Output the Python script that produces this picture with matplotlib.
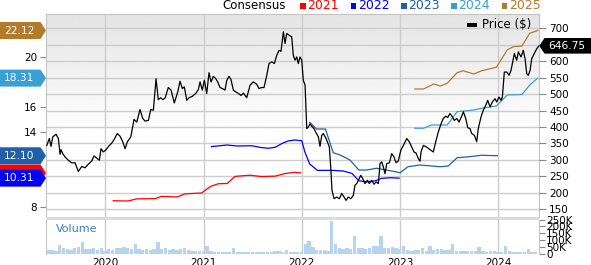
import numpy as np
import matplotlib
matplotlib.use("Agg")
import matplotlib.pyplot as plt
from matplotlib.patches import Polygon, Rectangle
from matplotlib.transforms import blended_transform_factory

# price, right axis ($), time in decimal years
price_t = [2019.404, 2019.430, 2019.447, 2019.465, 2019.498, 2019.522, 2019.539, 2019.549, 2019.566, 2019.590,
           2019.623, 2019.658, 2019.692, 2019.725, 2019.760, 2019.793, 2019.827, 2019.862, 2019.885, 2019.919,
           2019.939, 2019.956, 2019.980, 2020.007, 2020.041, 2020.065, 2020.089, 2020.122, 2020.150, 2020.177,
           2020.201, 2020.224, 2020.259, 2020.292, 2020.320, 2020.353, 2020.381, 2020.404, 2020.438, 2020.462,
           2020.489, 2020.516, 2020.539, 2020.564, 2020.584, 2020.608, 2020.641, 2020.669, 2020.702, 2020.737,
           2020.760, 2020.784, 2020.804, 2020.829, 2020.852, 2020.885, 2020.920, 2020.947, 2020.964, 2020.987,
           2021.008, 2021.032, 2021.055, 2021.076, 2021.099, 2021.124, 2021.144, 2021.167, 2021.191, 2021.218,
           2021.236, 2021.259, 2021.279, 2021.303, 2021.327, 2021.354, 2021.381, 2021.405, 2021.439, 2021.473,
           2021.506, 2021.541, 2021.564, 2021.592, 2021.615, 2021.643, 2021.666, 2021.694, 2021.720, 2021.745,
           2021.768, 2021.788, 2021.812, 2021.829, 2021.846, 2021.880, 2021.897, 2021.913, 2021.931, 2021.948,
           2021.964, 2021.982, 2021.999, 2022.015, 2022.033, 2022.050, 2022.066, 2022.084, 2022.101, 2022.124,
           2022.145, 2022.168, 2022.185, 2022.203, 2022.219, 2022.247, 2022.260, 2022.280, 2022.294, 2022.307,
           2022.328, 2022.355, 2022.382, 2022.406, 2022.430, 2022.450, 2022.473, 2022.498, 2022.524, 2022.541,
           2022.559, 2022.575, 2022.600, 2022.620, 2022.643, 2022.667, 2022.687, 2022.711, 2022.735, 2022.755,
           2022.779, 2022.796, 2022.813, 2022.830, 2022.847, 2022.864, 2022.891, 2022.915, 2022.938, 2022.959,
           2022.982, 2023.007, 2023.033, 2023.068, 2023.094, 2023.119, 2023.142, 2023.162, 2023.186, 2023.203,
           2023.213, 2023.237, 2023.271, 2023.305, 2023.338, 2023.363, 2023.389, 2023.417, 2023.440, 2023.465,
           2023.485, 2023.508, 2023.532, 2023.552, 2023.577, 2023.600, 2023.627, 2023.644, 2023.668, 2023.689,
           2023.712, 2023.729, 2023.756, 2023.780, 2023.796, 2023.824, 2023.847, 2023.872, 2023.892, 2023.916,
           2023.939, 2023.966, 2023.984, 2024.007, 2024.028, 2024.041, 2024.051, 2024.061, 2024.086, 2024.109,
           2024.129, 2024.143, 2024.163, 2024.187, 2024.204, 2024.231, 2024.254, 2024.272, 2024.289, 2024.305,
           2024.323, 2024.340, 2024.366, 2024.391, 2024.414]
price = [344, 365, 341, 370, 378, 365, 317, 331, 319, 309,
         299, 291, 291, 265, 280, 276, 287, 297, 312, 304,
         299, 334, 324, 331, 344, 351, 362, 380, 372, 355,
         334, 355, 370, 423, 415, 453, 426, 418, 420, 453,
         451, 547, 483, 489, 483, 488, 520, 512, 473, 507,
         539, 517, 522, 481, 489, 493, 502, 514, 537, 512,
         542, 502, 565, 537, 554, 547, 537, 520, 517, 512,
         542, 554, 544, 512, 507, 502, 496, 503, 489, 527,
         537, 530, 517, 520, 520, 557, 593, 598, 593, 618,
         633, 630, 689, 654, 684, 677, 674, 618, 603, 613,
         593, 613, 603, 542, 527, 395, 400, 410, 402, 395,
         382, 370, 341, 375, 380, 365, 355, 339, 278, 208,
         182, 187, 182, 198, 187, 177, 187, 182, 192, 223,
         228, 238, 253, 243, 228, 238, 228, 238, 226, 233,
         228, 289, 294, 278, 258, 289, 291, 319, 309, 291,
         297, 329, 344, 365, 355, 339, 324, 321, 304, 296,
         324, 344, 339, 331, 324, 355, 385, 410, 426, 433,
         429, 441, 431, 420, 426, 415, 433, 446, 426, 398,
         395, 380, 375, 355, 395, 431, 451, 466, 481, 461,
         476, 486, 476, 491, 481, 491, 527, 567, 567, 557,
         572, 593, 623, 603, 628, 613, 633, 608, 562, 557,
         572, 608, 623, 638, 646.75]

# consensus EPS estimates, left axis
c2021_t = [2020.08, 2020.23, 2020.32, 2020.51, 2020.57, 2020.73, 2020.81, 2020.98, 2021.07, 2021.15,
           2021.24, 2021.32, 2021.47, 2021.59, 2021.73, 2021.83, 2021.93, 2021.99]
c2021 = [8.50, 8.48, 8.65, 8.67, 8.85, 8.80, 9.05, 9.12, 9.65, 9.86,
         9.88, 10.45, 10.54, 10.44, 10.47, 10.68, 10.78, 10.72]

c2022_t = [2021.08, 2021.24, 2021.34, 2021.49, 2021.59, 2021.66, 2021.73, 2021.80, 2021.86, 2021.93,
           2022.00, 2022.03, 2022.08, 2022.16, 2022.32, 2022.42, 2022.51, 2022.58, 2022.66, 2022.75,
           2022.81, 2022.90, 2022.99]
c2022 = [12.83, 12.96, 12.88, 12.90, 12.75, 12.70, 12.78, 13.09, 13.28, 13.36,
         13.30, 12.42, 11.44, 10.93, 10.93, 10.88, 10.69, 10.10, 10.02, 10.10,
         10.29, 10.34, 10.31]

c2023_t = [2022.08, 2022.15, 2022.24, 2022.32, 2022.39, 2022.49, 2022.58, 2022.66, 2022.76, 2022.90,
           2023.00, 2023.08, 2023.20, 2023.32, 2023.41, 2023.49, 2023.58, 2023.70, 2023.83, 2023.99]
c2023 = [14.77, 14.24, 14.24, 12.34, 12.16, 11.76, 10.96, 10.96, 11.10, 10.90,
         10.74, 11.22, 11.36, 11.28, 11.22, 11.28, 11.94, 12.02, 12.14, 12.10]

c2024_t = [2023.15, 2023.24, 2023.32, 2023.48, 2023.58, 2023.75, 2023.83, 2023.98, 2024.09, 2024.24,
           2024.32, 2024.40]
c2024 = [14.30, 14.30, 14.56, 14.56, 15.62, 15.76, 15.90, 16.08, 16.96, 17.00,
         17.76, 18.31]

c2025_t = [2023.15, 2023.24, 2023.34, 2023.41, 2023.48, 2023.58, 2023.64, 2023.75, 2023.83, 2023.98,
           2024.09, 2024.15, 2024.24, 2024.32, 2024.40]
c2025 = [17.44, 17.44, 17.84, 17.68, 17.90, 18.74, 18.90, 18.64, 18.90, 19.18,
         20.56, 20.82, 20.88, 21.90, 22.12]

# volume (thousands), one bar every two weeks from vol_start
vol_start = 2019.42
vol = [28, 30, 25, 65, 40, 35, 30, 45, 50, 85, 35, 35, 45, 30, 45, 25, 35, 30, 40, 45,
       50, 45, 35, 75, 35, 30, 35, 30, 35, 85, 35, 40, 30, 35, 30, 35, 40, 30, 25, 25,
       25, 20, 55, 20, 15, 18, 18, 15, 18, 40, 18, 15, 18, 15, 18, 15, 18, 15, 18, 15,
       20, 25, 18, 28, 18, 15, 15, 18, 70, 95, 50, 30, 28, 30, 25, 238, 70, 45, 35, 45,
       35, 130, 45, 40, 35, 40, 60, 60, 130, 45, 45, 50, 40, 35, 55, 30, 25, 28, 30, 40,
       20, 55, 30, 35, 35, 30, 30, 75, 25, 25, 20, 20, 25, 25, 50, 20, 18, 20, 22, 15,
       15, 60, 20, 18, 15, 15, 15, 35, 15, 18]

years = [2020, 2021, 2022, 2023, 2024]
est_years = ["2021", "2022", "2023", "2024", "2025"]
est_colors = ["#ff0000", "#0000ff", "#2060a8", "#3a9fd2", "#b27b2c"]
price_ticks = [150, 200, 250, 300, 350, 400, 450, 500, 550, 600, 650, 700]
vol_ticks = [0, 50, 100, 150, 200, 250]

W, H = 591, 265
fig = plt.figure(figsize=(W / 100, H / 100), dpi=100)


def fx(x):
    return x / W


def fy(y):
    return 1 - y / H


L, R, T, B = 46, 539.3, 14, 217
grid_c = "#cccccc"

# background gradient
bg = fig.add_axes([fx(L), fy(B), fx(R) - fx(L), fy(T) - fy(B)], zorder=-1)
s = np.linspace(0, 1, 200)[:, None]
shade = np.clip(0.895 + 0.105 * s / 0.6, 0, 1)
bg.imshow(shade, cmap="gray", vmin=0, vmax=1, aspect="auto", extent=[0, 1, 0, 1])
bg.axis("off")

ax = fig.add_axes([fx(L), fy(B), fx(R) - fx(L), fy(T) - fy(B)])
ax.patch.set_visible(False)
ax2 = ax.twinx()

xlim = (2019.396, 2024.417)
ax.set_xlim(xlim)
ax.set_ylim(7.2, 23.44)
ax2.set_ylim(126.4, 743.5)

# horizontal grid follows the price ticks
gtr = blended_transform_factory(ax.transAxes, ax2.transData)
for p in price_ticks:
    ax.plot([0, 1], [p, p], transform=gtr, color=grid_c, lw=1, zorder=0.5)
for yr in years:
    ax.axvline(yr, color=grid_c, lw=1, zorder=0.5)

series = [(c2021_t, c2021), (c2022_t, c2022), (c2023_t, c2023), (c2024_t, c2024), (c2025_t, c2025)]
for (t, v), col in zip(series, est_colors):
    ax.plot(t, v, color=col, lw=0.9, zorder=2)

ax2.plot(price_t, price, color="black", lw=0.9, zorder=3)

for a in (ax, ax2):
    for sp in a.spines.values():
        sp.set_visible(False)
for side in ("left", "top", "right"):
    ax.spines[side].set_visible(True)
    ax.spines[side].set_color("#c4c4c4")

ax.set_xticks(years)
ax.tick_params(axis="x", length=0, labelbottom=False)
ax.set_yticks([8, 14, 16, 20])
ax.tick_params(axis="y", labelsize=7.5, length=4.5, color="#888888", pad=2, width=0.8)
ax2.set_yticks(price_ticks)
# the 650 label sits under the last-price badge
ax2.set_yticklabels(["" if p == 650 else str(p) for p in price_ticks])
ax2.tick_params(axis="y", labelsize=7.5, length=5, color="#888888", pad=2, width=0.8)

# volume panel
axv = fig.add_axes([fx(L), fy(254), fx(R) - fx(L), fy(219.5) - fy(254)])
vol_t = vol_start + np.arange(len(vol)) / 26
axv.bar(vol_t, vol, width=0.034, color="#b7d4ef", edgecolor="none", zorder=2)
axv.set_xlim(xlim)
axv.set_ylim(0, 250)
for yr in years:
    axv.axvline(yr, color=grid_c, lw=1, zorder=1)
axv.set_xticks(years)
axv.set_xticklabels([str(y) for y in years])
axv.tick_params(axis="x", length=0, labelsize=7.5, pad=3)
axv.yaxis.tick_right()
axv.set_yticks(vol_ticks)
axv.set_yticklabels(["0" if v == 0 else f"{v}K" for v in vol_ticks])
axv.tick_params(axis="y", labelsize=7.5, length=4, color="#888888", pad=1, width=0.8)
for side in ("top", "bottom"):
    axv.spines[side].set_visible(False)
for side in ("left", "right"):
    axv.spines[side].set_color("#c4c4c4")
fig.text(fx(56), fy(229), "Volume", color="#3b7fc4", fontsize=8, va="center")

# separator band between panels
fig.add_artist(Rectangle((fx(L), fy(219.5)), fx(R) - fx(L), fy(216.5) - fy(219.5),
                         transform=fig.transFigure, color="#dcdcdc", lw=0))

# left badges with the latest consensus values, later years on top
btr = blended_transform_factory(fig.transFigure, ax.transData)
hh = 8.5 / 12.5
last_vals = [v[-1] for _, v in series]
for i, col in enumerate(est_colors):
    y = last_vals[i]
    pts = [(0, y - hh), (fx(40.5), y - hh), (fx(46), y), (fx(40.5), y + hh), (0, y + hh)]
    fig.add_artist(Polygon(pts, closed=True, transform=btr, facecolor=col, edgecolor="none",
                           zorder=10 + 2 * i))
    # a badge mostly hidden under a later one shows no number
    covered = any(abs(y - other) < 1.2 * hh for other in last_vals[i + 1:])
    if not covered:
        fig.text(fx(19), y, f"{y:.2f}", transform=btr, color="white", fontsize=7.7,
                 ha="center", va="center", zorder=11 + 2 * i)

# right badge with the last price
ptr = blended_transform_factory(fig.transFigure, ax2.transData)
ph = 7.8 / 0.329
p_last = price[-1]
pts = [(fx(539.3), p_last), (fx(544.5), p_last + ph), (1, p_last + ph), (1, p_last - ph), (fx(544.5), p_last - ph)]
fig.add_artist(Polygon(pts, closed=True, transform=ptr, facecolor="black", edgecolor="none", zorder=20))
fig.text(fx(566.5), p_last, f"{p_last:.2f}", transform=ptr, color="white", fontsize=7.7,
         ha="center", va="center", zorder=21)

# top legend
fig.text(fx(254), fy(5.5), "Consensus", fontsize=8.5, ha="center", va="center")
for i, (lab, col) in enumerate(zip(est_years, est_colors)):
    x0 = 300.5 + 50.3 * i
    fig.add_artist(Rectangle((fx(x0), fy(8.5)), fx(5.5), fy(2.5) - fy(8.5),
                             transform=fig.transFigure, color=col, lw=0))
    fig.text(fx(x0 + 7), fy(5.5), lab, color=col, fontsize=9, va="center")

fig.add_artist(Rectangle((fx(467), fy(27)), fx(10), fy(23) - fy(27),
                         transform=fig.transFigure, color="black", lw=0))
fig.text(fx(482), fy(25), "Price ($)", fontsize=8.5, va="center")

fig.savefig("out.png", dpi=100)
